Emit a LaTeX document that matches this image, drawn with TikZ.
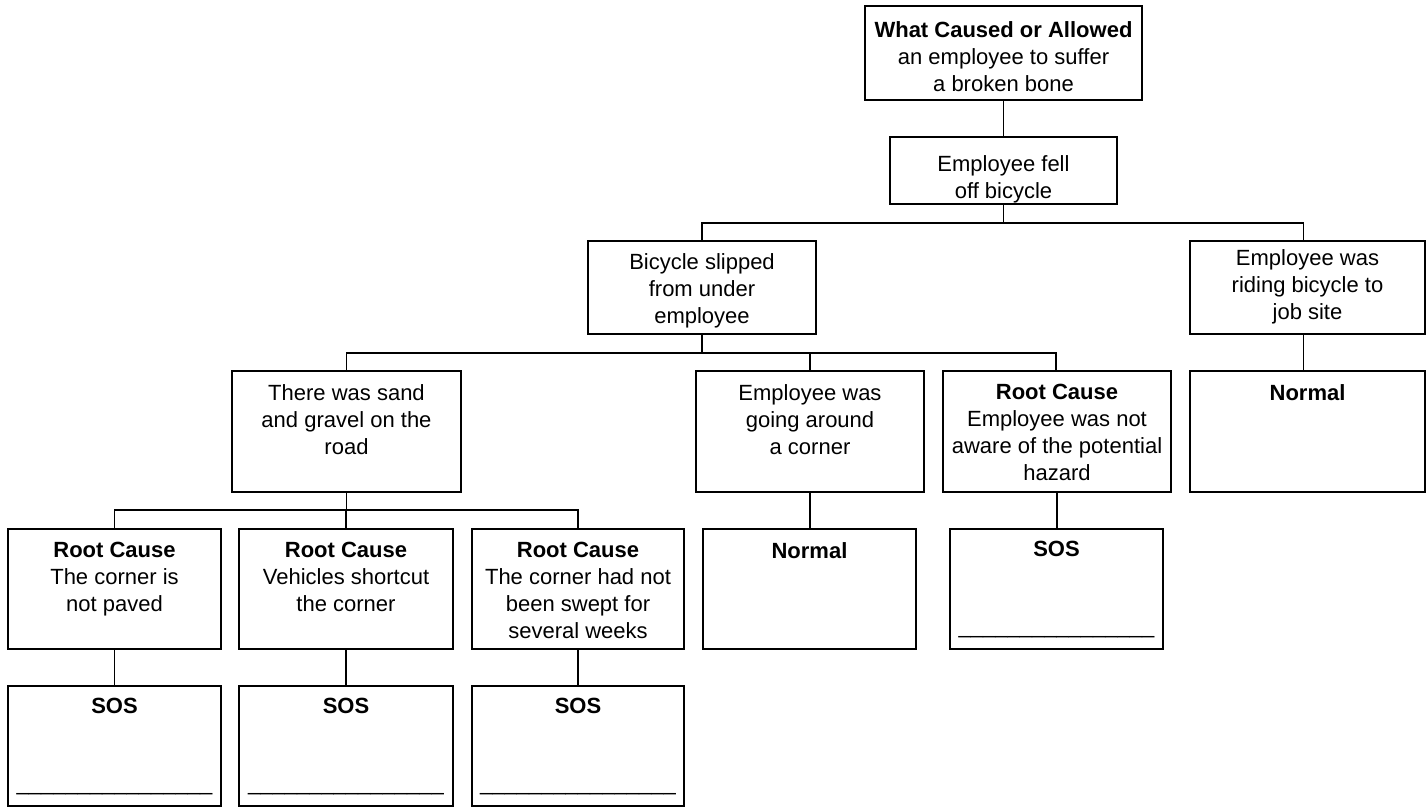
\documentclass[tikz,border=0pt]{standalone}
\usepackage{fontspec}
\setmainfont{Liberation Sans}
\begin{document}
\begin{tikzpicture}[x=1pt,y=-1pt,
  box/.style={draw, line width=1.8pt, inner sep=0pt, outer sep=0pt, anchor=north west},
  txt/.style={align=center, inner sep=0pt, anchor=north, font=\fontsize{22}{27}\selectfont},
  uline/.style={inner sep=0pt, anchor=base, font=\fontsize{22}{27}\selectfont},
  conn/.style={line width=1.8pt}]
\useasboundingbox (0,0) rectangle (1427,808);
% boxes
\node[box, minimum width=277pt, minimum height=94pt] (top) at (865,6) {};
\node[box, minimum width=227pt, minimum height=67pt] (fell) at (890,137) {};
\node[box, minimum width=228pt, minimum height=93pt] (slipped) at (588,241) {};
\node[box, minimum width=235pt, minimum height=93pt] (riding) at (1190,241) {};
\node[box, minimum width=229pt, minimum height=121pt] (sand) at (232,371) {};
\node[box, minimum width=228pt, minimum height=121pt] (going) at (696,371) {};
\node[box, minimum width=228pt, minimum height=121pt] (aware) at (943,371) {};
\node[box, minimum width=235pt, minimum height=121pt] (normal2) at (1190,371) {};
\node[box, minimum width=213pt, minimum height=120pt] (rc1) at (8,529) {};
\node[box, minimum width=214pt, minimum height=120pt] (rc2) at (239,529) {};
\node[box, minimum width=212pt, minimum height=120pt] (rc3) at (472,529) {};
\node[box, minimum width=213pt, minimum height=120pt] (normal1) at (703,529) {};
\node[box, minimum width=213pt, minimum height=120pt] (sos4) at (950,529) {};
\node[box, minimum width=213pt, minimum height=120pt] (sos1) at (8,686) {};
\node[box, minimum width=214pt, minimum height=120pt] (sos2) at (239,686) {};
\node[box, minimum width=212pt, minimum height=120pt] (sos3) at (472,686) {};
% texts
\node[txt] (top-t) at ([yshift=-15pt]top.north) {\textbf{What Caused or Allowed}\\an employee to suffer\\a broken bone};
\node[txt] (fell-t) at ([yshift=-18pt]fell.north) {Employee fell\\off bicycle};
\node[txt] (slipped-t) at ([yshift=-12pt]slipped.north) {Bicycle slipped\\from under\\employee};
\node[txt] (riding-t) at ([yshift=-8pt]riding.north) {Employee was\\riding bicycle to\\job site};
\node[txt] (sand-t) at ([yshift=-13pt]sand.north) {There was sand\\and gravel on the\\road};
\node[txt] (going-t) at ([yshift=-13pt]going.north) {Employee was\\going around\\a corner};
\node[txt] (aware-t) at ([yshift=-13pt]aware.north) {\textbf{Root Cause}\\Employee was not\\aware of the potential\\hazard};
\node[txt] (normal2-t) at ([yshift=-13pt]normal2.north) {\textbf{Normal}};
\node[txt] (rc1-t) at ([yshift=-13pt]rc1.north) {\textbf{Root Cause}\\The corner is\\not paved};
\node[txt] (rc2-t) at ([yshift=-13pt]rc2.north) {\textbf{Root Cause}\\Vehicles shortcut\\the corner};
\node[txt] (rc3-t) at ([yshift=-13pt]rc3.north) {\textbf{Root Cause}\\The corner had not\\been swept for\\several weeks};
\node[txt] (normal1-t) at ([yshift=-13pt]normal1.north) {\textbf{Normal}};
\node[txt] (sos4-t) at ([yshift=-12pt]sos4.north) {\textbf{SOS}};
\node[txt] (sos1-t) at ([yshift=-12pt]sos1.north) {\textbf{SOS}};
\node[txt] (sos2-t) at ([yshift=-12pt]sos2.north) {\textbf{SOS}};
\node[txt] (sos3-t) at ([yshift=-12pt]sos3.north) {\textbf{SOS}};
\node[uline] (sos4-u) at ([yshift=16pt]sos4.south) {\_\_\_\_\_\_\_\_\_\_\_\_\_\_\_\_};
\node[uline] (sos1-u) at ([yshift=16pt]sos1.south) {\_\_\_\_\_\_\_\_\_\_\_\_\_\_\_\_};
\node[uline] (sos2-u) at ([yshift=16pt]sos2.south) {\_\_\_\_\_\_\_\_\_\_\_\_\_\_\_\_};
\node[uline] (sos3-u) at ([yshift=16pt]sos3.south) {\_\_\_\_\_\_\_\_\_\_\_\_\_\_\_\_};
% bus coordinates
\coordinate (b1) at (fell.south |- 0,223);
\coordinate (b2) at (slipped.south |- 0,353);
\coordinate (b3) at (sand.south |- 0,510);
% connectors
\draw[conn] (top.south) -- (top.south |- fell.north);
\draw[conn] (fell.south) -- (b1);
\draw[conn] (slipped.north) |- (b1) -| ([xshift=-4pt]riding.north);
\draw[conn] (slipped.south) -- (b2);
\draw[conn] (sand.north) |- (b2) -| ([xshift=-1pt]aware.north);
\draw[conn] (going.north) -- (going.north |- b2);
\draw[conn] (sand.south) -- (b3);
\draw[conn] (rc1.north) |- (b3) -| (rc3.north);
\draw[conn] (rc2.north) -- (rc2.north |- b3);
\draw[conn] (rc1.south) -- (sos1.north);
\draw[conn] (rc2.south) -- (sos2.north);
\draw[conn] (rc3.south) -- (sos3.north);
\draw[conn] (going.south) -- (going.south |- normal1.north);
\draw[conn] (aware.south) -- (aware.south |- sos4.north);
\draw[conn] ([xshift=-4pt]riding.south) -- ([xshift=-4pt]normal2.north);
\end{tikzpicture}
\end{document}
